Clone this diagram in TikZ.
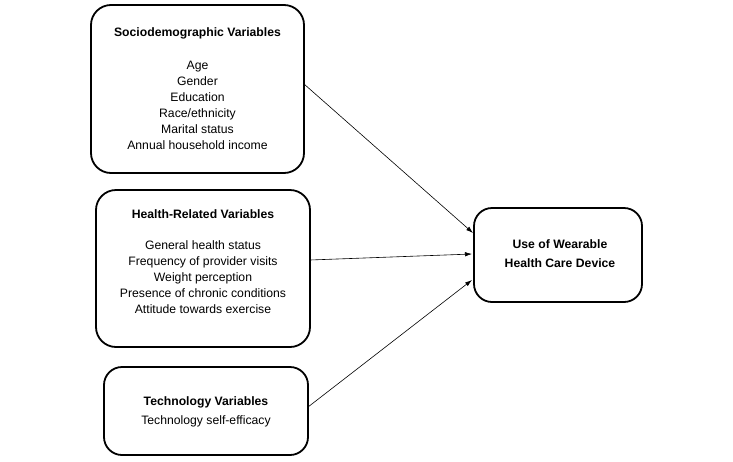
\documentclass[tikz,border=0pt]{standalone}
\usepackage{fontspec}
\setmainfont{Liberation Sans}
\usetikzlibrary{arrows.meta}
\begin{document}
\begin{tikzpicture}[x=1pt,y=-1pt,
  txt/.style={align=center,font=\fontsize{12.2}{16}\selectfont,inner sep=0pt},
  frame/.style={line width=1.8pt,rounded corners=#1},
  conn/.style={line width=0.6pt,-{Latex[length=7pt,width=4.5pt]}}]
\useasboundingbox (0,0) rectangle (733,461);
\fill[white] (0,0) rectangle (733,461);
% boxes
\draw[frame=20pt] (91,5) rectangle (304,173);
\draw[frame=20pt] (96,190) rectangle (310,347);
\draw[frame=18pt] (104,367) rectangle (308,455);
\draw[frame=18pt] (474,208) rectangle (642,302);
% anchor coordinates for connectors
\coordinate (s1) at (304,84);
\coordinate (s2) at (310,260);
\coordinate (s3) at (308,407);
\coordinate (e1) at (473,233);
\coordinate (e2) at (472,254);
\coordinate (e3) at (472,280);
% texts
\node[txt] (t1) at (197.5,33) {\textbf{Sociodemographic Variables}};
\node[txt,anchor=north] (l1) at (197.5,61) {Age\\Gender\\Education\\Race/ethnicity\\Marital status\\Annual household income};
\node[txt] (t2) at (203,214) {\textbf{Health-Related Variables}};
\node[txt,anchor=north] (l2) at (203,240.5) {General health status\\Frequency of provider visits\\Weight perception\\Presence of chronic conditions\\Attitude towards exercise};
\node[txt] (t3) at (206,402) {\textbf{Technology Variables}};
\node[txt] (l3) at (206,421) {Technology self-efficacy};
\node[txt,font=\bfseries\fontsize{12.2}{19}\selectfont] (t4) at (560,253.5) {Use of Wearable\\Health Care Device};
% connectors
\draw[conn] (s1) -- (e1);
\draw[conn] (s2) -- (e2);
\draw[conn] (s3) -- (e3);
\end{tikzpicture}
\end{document}
